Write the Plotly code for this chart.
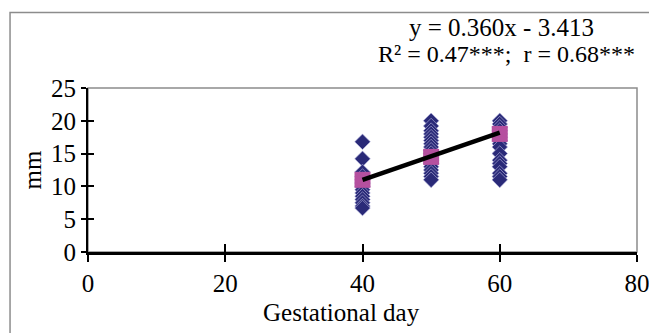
import plotly.graph_objects as go

# Data
day40 = [16.8, 14.2, 12.2, 11.5, 11.0, 10.5, 10.0, 9.5, 9.0, 8.5, 8.0, 7.5, 7.0, 6.7]
day50 = [20.0, 19.2, 18.5, 18.0, 17.5, 17.0, 16.5, 16.0, 15.5, 15.0, 14.5, 14.0, 13.5, 13.0, 12.5, 12.0, 11.5, 11.0]
day60 = [20.0, 19.5, 19.0, 18.5, 18.0, 17.5, 17.0, 16.5, 16.0, 15.0, 14.0, 13.5, 13.0, 12.0, 11.5, 11.0]
days = [40, 50, 60]
means = [11.0, 14.5, 18.0]
slope, intercept = 0.360, -3.413
x_ticks = [0, 20, 40, 60, 80]
y_ticks = [0, 5, 10, 15, 20, 25]

xs = [40] * len(day40) + [50] * len(day50) + [60] * len(day60)
ys = day40 + day50 + day60

FONT = "Liberation Serif, Times New Roman, serif"
FS = 25

fig = go.Figure()
fig.add_trace(go.Scatter(
    x=xs, y=ys, mode="markers",
    marker=dict(symbol="diamond", size=12, color="#2a2a78",
                line=dict(width=0.6, color="#b8b8e0")),
    showlegend=False, cliponaxis=False))
fig.add_trace(go.Scatter(
    x=days, y=means, mode="markers",
    marker=dict(symbol="square", size=16, color="#b5509f", line=dict(width=0)),
    showlegend=False))
fig.add_trace(go.Scatter(
    x=[days[0], days[-1]],
    y=[slope * days[0] + intercept, slope * days[-1] + intercept],
    mode="lines", line=dict(color="black", width=4.5), showlegend=False))
# invisible trace to anchor overlay axes (for crossing ticks)
fig.add_trace(go.Scatter(x=[None], y=[None], xaxis="x2", yaxis="y2",
                         showlegend=False, hoverinfo="skip"))

fig.update_layout(
    width=649, height=333,
    margin=dict(l=88, r=12, t=88, b=81, autoexpand=False),
    paper_bgcolor="white", plot_bgcolor="white",
    font=dict(family=FONT, size=FS, color="black"),
    xaxis=dict(range=[0, 80], tickvals=x_ticks, showgrid=False, zeroline=False,
               automargin=False, ticklabeloverflow="allow",
               showline=True, linecolor="black", linewidth=3,
               ticks="outside", ticklen=7, tickwidth=1.5, tickcolor="black",
               tickfont=dict(size=FS, family=FONT)),
    yaxis=dict(range=[0, 25], tickvals=y_ticks, showgrid=False, zeroline=False,
               automargin=False, ticklabeloverflow="allow",
               showline=True, linecolor="black", linewidth=2,
               ticks="outside", ticklen=5, tickwidth=1.5, tickcolor="black",
               tickfont=dict(size=FS, family=FONT),
               title=dict(text="mm", font=dict(size=FS, family=FONT), standoff=2)),
    xaxis2=dict(overlaying="x", anchor="y", side="bottom", range=[0, 80], automargin=False,
                tickvals=x_ticks, showticklabels=False, showgrid=False, zeroline=False,
                showline=False, ticks="inside", ticklen=8, tickwidth=1.5, tickcolor="black"),
    yaxis2=dict(overlaying="y", anchor="x", side="left", range=[0, 25], automargin=False,
                tickvals=y_ticks, showticklabels=False, showgrid=False, zeroline=False,
                showline=False, ticks="inside", ticklen=6, tickwidth=1.5, tickcolor="black"),
    shapes=[
        dict(type="rect", xref="paper", yref="paper", x0=0, y0=0, x1=1, y1=1,
             line=dict(color="#8c8c8c", width=1.5), layer="below"),
        dict(type="rect", xref="paper", yref="paper", x0=-0.142, y0=-0.6, x1=1.1, y1=1.46,
             line=dict(color="#8c8c8c", width=1.5), layer="below"),
    ],
    annotations=[
        dict(text="y = 0.360x - 3.413", xref="paper", yref="paper", x=0.754, y=1.366,
             xanchor="center", yanchor="middle", showarrow=False,
             font=dict(size=FS, family=FONT)),
        dict(text="R² = 0.47***;  r = 0.68***", xref="paper", yref="paper",
             x=1.0, y=1.207, xanchor="right", yanchor="middle", showarrow=False,
             font=dict(size=24, family=FONT)),
        dict(text="Gestational day", xref="paper", yref="paper", x=0.461, y=-0.366,
             xanchor="center", yanchor="middle", showarrow=False,
             font=dict(size=FS, family=FONT)),
    ],
)

fig.write_html("out.html")
